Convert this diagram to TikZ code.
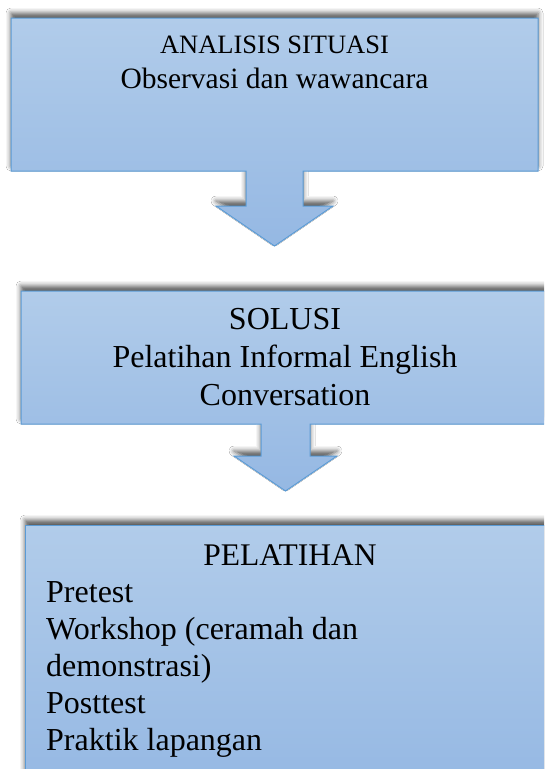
\documentclass[tikz,border=0pt]{standalone}
\usepackage{fontspec}
\setmainfont{Liberation Serif}
\usetikzlibrary{shadows.blur}
\definecolor{boxtop}{HTML}{B1CCEA}
\definecolor{boxbot}{HTML}{95B8E3}
\definecolor{boxline}{HTML}{5B9BD5}
\tikzset{
  flowshape/.style={draw=boxline, line width=1pt, top color=boxtop, bottom color=boxbot,
    blur shadow={shadow xshift=0pt, shadow yshift=5pt, shadow blur radius=5pt, shadow opacity=65}},
  linetxt/.style={anchor=base, inner sep=0pt, text=black},
  lefttxt/.style={anchor=base west, inner sep=0pt, text=black}
}
\begin{document}
\begin{tikzpicture}[x=1pt, y=-1pt]
\clip (0,0) rectangle (544,769);
\fill[white] (0,0) rectangle (544,769);
% box 1 with arrow
\path[flowshape] (11,18) -- (538,18) -- (538,171) -- (303,171) -- (303,206) -- (333,206)
  -- (274.5,246) -- (216,206) -- (246,206) -- (246,171) -- (11,171) -- cycle;
% box 2 with arrow
\path[flowshape] (21,291) -- (549,291) -- (549,424) -- (310,424) -- (310,456) -- (337,456)
  -- (285.5,491) -- (234,456) -- (261,456) -- (261,424) -- (21,424) -- cycle;
% box 3
\path[flowshape] (25,525) -- (555,525) -- (555,790) -- (25,790) -- cycle;

\node[linetxt, font=\fontsize{26.5}{32}\selectfont] (t1a) at (274.5,53) {ANALISIS SITUASI};
\node[linetxt, font=\fontsize{29.5}{35}\selectfont] (t1b) at (274.5,88) {Observasi dan wawancara};

\node[linetxt, font=\fontsize{32}{38}\selectfont] (t2a) at (285,329) {SOLUSI};
\node[linetxt, font=\fontsize{32}{38}\selectfont] (t2b) at (285,367) {Pelatihan Informal English};
\node[linetxt, font=\fontsize{32}{38}\selectfont] (t2c) at (285,405) {Conversation};

\node[linetxt, font=\fontsize{31.5}{37}\selectfont] (t3a) at (290,565) {PELATIHAN};
\node[lefttxt, font=\fontsize{32}{37}\selectfont] (t3b) at (46,602) {Pretest};
\node[lefttxt, font=\fontsize{32}{37}\selectfont] (t3c) at (46,639) {Workshop (ceramah dan};
\node[lefttxt, font=\fontsize{32}{37}\selectfont] (t3d) at (46,676) {demonstrasi)};
\node[lefttxt, font=\fontsize{32}{37}\selectfont] (t3e) at (46,713) {Posttest};
\node[lefttxt, font=\fontsize{32}{37}\selectfont] (t3f) at (46,750) {Praktik lapangan};
\end{tikzpicture}
\end{document}
